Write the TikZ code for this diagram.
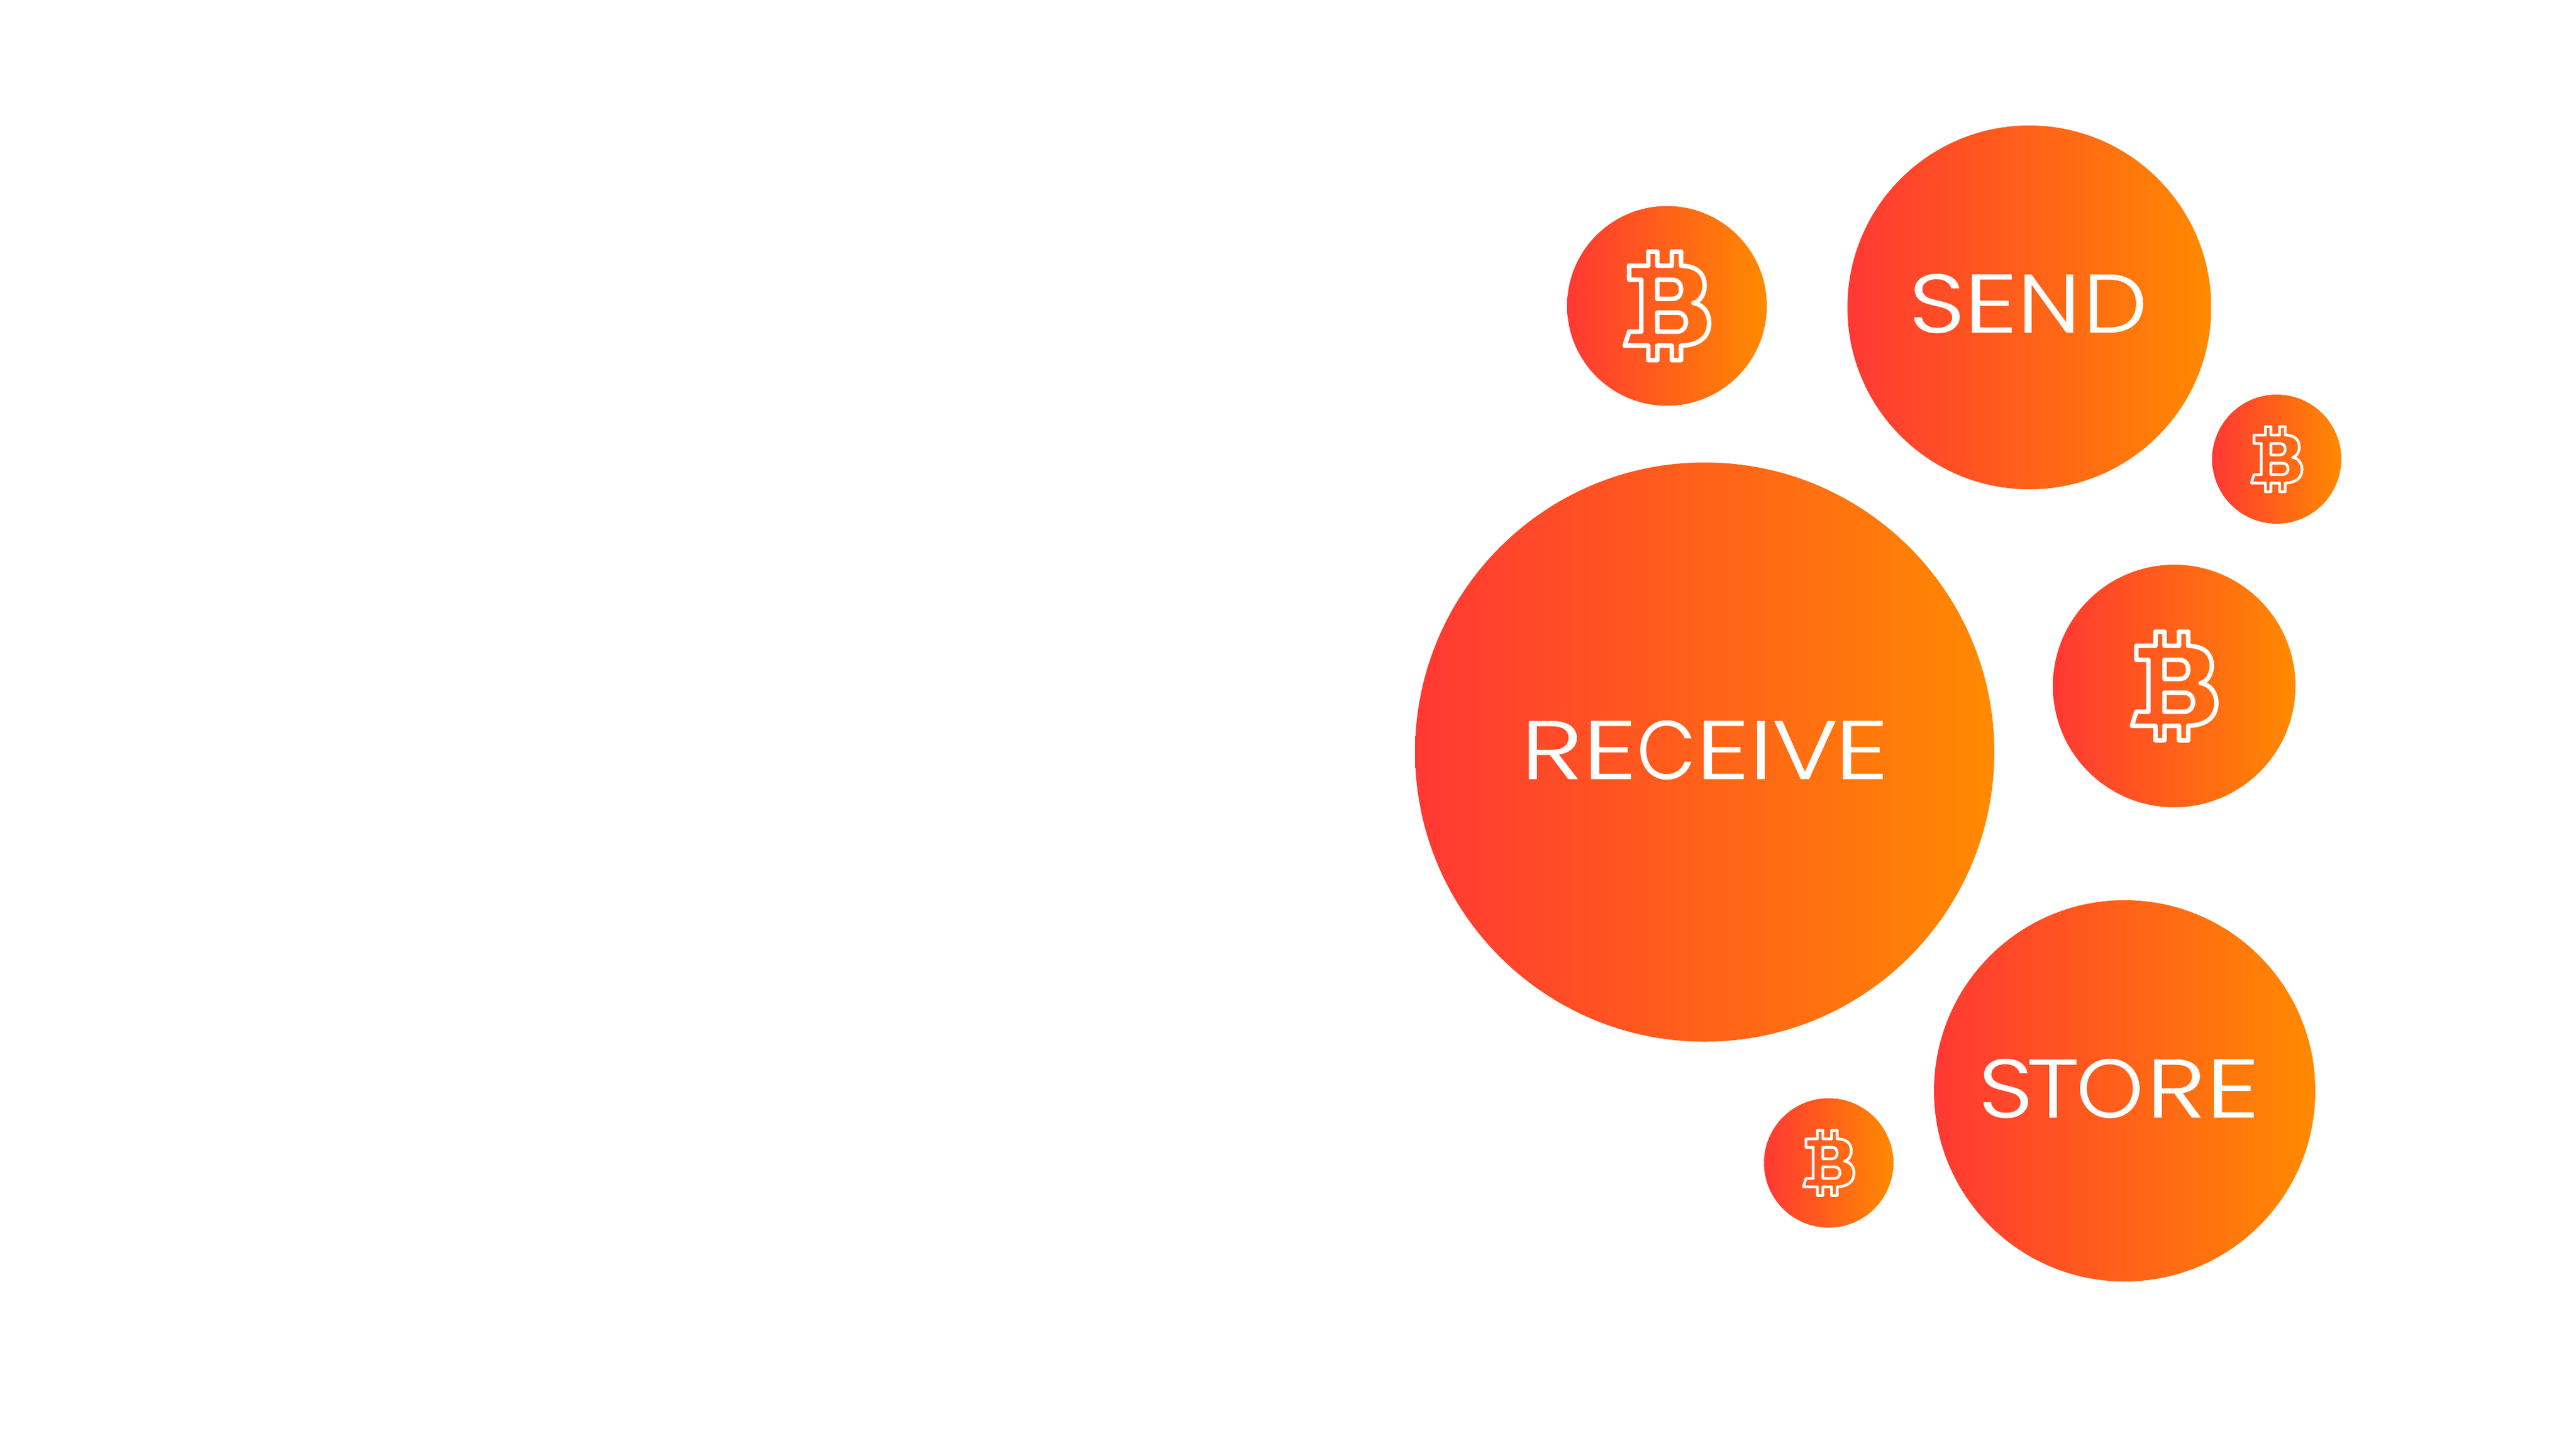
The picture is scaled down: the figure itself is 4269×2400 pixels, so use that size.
\documentclass[tikz,border=0pt]{standalone}
\usepackage{graphicx}
\usepackage{fontspec}
\setmainfont{Poppins Light}
\newfontfamily\lblfont[FakeBold=0.6]{Poppins Light}
\definecolor{gl}{HTML}{FF3833}
\definecolor{gr}{HTML}{FF8A00}
\newcommand\sx[2]{\scalebox{#1}[1]{#2}}
\tikzset{
 disc/.style={circle,inner sep=0pt,minimum size=#1,left color=gl,right color=gr,draw=none},
 lbl/.style={text=white,inner sep=0pt,text height=96pt,text depth=0pt,font=\lblfont\fontsize{137}{137}\selectfont},
 coinB/.pic={
  \draw[white,line join=round,line cap=round,pic actions]
  (-188,-200)--(-93,-200)--(-93,-270)--(-48,-270)--(-48,-200)--(24,-200)--(24,-270)--(70,-270)--(70,-200)
  .. controls (150,-198) and (187,-160) .. (187,-100)
  .. controls (187,-60) and (165,-22) .. (132,-14)
  .. controls (180,-8) and (210,35) .. (210,85)
  .. controls (210,150) and (165,195) .. (70,198)
  --(70,270)--(24,270)--(24,198)--(-48,198)--(-48,270)--(-93,270)--(-93,198)--(-210,198)--(-188,128)--(-128,128)--(-128,-130)--(-188,-130)--cycle
  (-48,-130)--(27,-130) .. controls (55,-130) and (70,-108) .. (70,-82) .. controls (70,-55) and (55,-35) .. (27,-35) --(-48,-35)--cycle
  (-48,33)--(50,33) .. controls (78,33) and (94,55) .. (94,80) .. controls (94,105) and (78,128) .. (50,128) --(-48,128)--cycle;
 }
}
\begin{document}
\begin{tikzpicture}[x=1pt,y=-1pt]
\useasboundingbox (0,0) rectangle (4269,2400);
\node[disc=960pt] (receive) at (2825,1246.5) {};
\node[disc=603pt] (send) at (3363,509.5) {};
\node[disc=632pt] (store) at (3521,1808) {};
\node[disc=331pt] (coinA) at (2762.5,507) {};
\node[disc=402pt] (coinB) at (3603,1137) {};
\node[disc=214pt] (coinC) at (3773,761) {};
\node[disc=214.5pt] (coinD) at (3030.5,1927.5) {};
\node[lbl] (receiveT) at (2825,1243) {\sx{1.28}{R}\sx{1.3}{E}\sx{0.92}{C}\sx{1.3}{E}\sx{1.2}{I}\sx{1.2}{V}\kern-5pt\sx{1.3}{E}};
\node[lbl] (sendT) at (3361,503) {\sx{1.18}{S}\kern-2pt\sx{1.3}{E}\sx{1.1}{N}\kern5pt\sx{1.1}{D}};
\node[lbl] (storeT) at (3511.7,1804) {\sx{1.15}{S}\kern-10pt\sx{1.22}{T}\kern-5pt\sx{1.03}{O}\kern5pt\sx{1.22}{R}\sx{1.3}{E}};
\pic[x=0.3333pt,y=-0.3333pt,line width=7.5pt] at (coinA.center) {coinB};
\pic[x=0.3333pt,y=-0.3333pt,line width=7.5pt] at (coinB.center) {coinB};
\pic[x=0.2pt,y=-0.2pt,line width=4.5pt] at (coinC.center) {coinB};
\pic[x=0.2pt,y=-0.2pt,line width=4.5pt] at (coinD.center) {coinB};
\end{tikzpicture}
\end{document}
